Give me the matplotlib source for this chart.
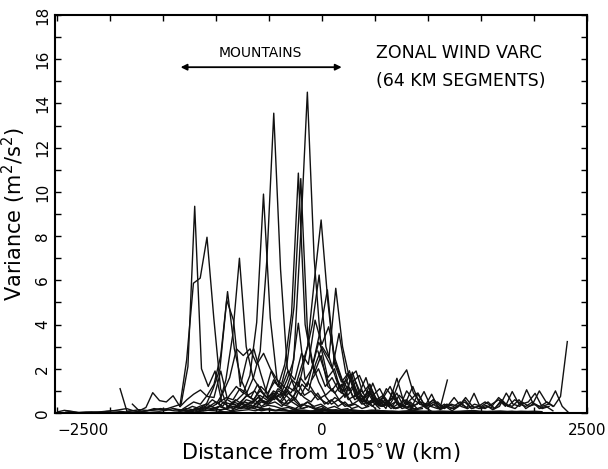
import numpy as np
import matplotlib
matplotlib.use("Agg")
import matplotlib.pyplot as plt
from matplotlib.ticker import MultipleLocator

# 64 km segment spacing along each flight track
SEG_KM = 64

# start position (km from 105W) of each track
starts = [-1906, -1790, -1340, -1404, -1348, -1292, -1193, -1352, -1248, -1033,
          -1163, -969, -924, -846, -767, -736, -898, -1000, -98, 522,
          410, 194, -2496, -2420, -300, -40, 130, 350]

# variance values per track (m^2/s^2)
v01 = [1.1, 0.08, 0.1, 0.05, 0.1, 0.2, 0.15, 0.2, 0.3, 0.4, 2.1, 9.35, 2.0, 1.2, 1.9,
       0.5, 0.3, 0.6, 0.4, 0.2, 0.3, 0.15, 0.2, 0.1, 0.15, 0.1, 0.2]
v02 = [0.4, 0.1, 0.25, 0.92, 0.56, 0.5, 0.78, 0.3, 2.4, 5.87, 6.1, 7.95, 4.3, 1.1, 0.3,
       0.2, 0.5, 0.3, 0.2, 0.1, 0.15, 0.1, 0.2, 0.1]
v03 = [0.29, 0.6, 0.85, 1.04, 0.75, 0.7, 1.9, 0.6, 0.4, 0.2, 0.4, 0.6, 0.3, 0.5, 0.8,
       0.4, 0.3, 0.2, 0.4, 0.3, 0.15, 0.2, 0.1]
v04 = [0.2, 0.1, 0.3, 0.5, 0.4, 0.8, 1.3, 2.6, 5.49, 2.9, 1.5, 0.8, 1.0, 0.6, 0.4, 0.5,
       0.3, 0.6, 0.4, 0.2, 0.3, 0.2, 0.1, 0.15, 0.1]
v05 = [0.1, 0.2, 0.15, 0.3, 0.4, 1.1, 2.0, 5.1, 4.2, 1.2, 2.5, 2.9, 1.8, 0.8, 0.6, 0.9,
       0.4, 0.7, 0.3, 0.5, 0.2, 0.3, 0.1]
v06 = [0.05, 0.1, 0.2, 0.3, 0.6, 0.4, 1.5, 3.5, 7.0, 3.0, 1.6, 1.1, 0.7, 0.9, 0.5, 0.4,
       0.6, 0.3, 0.5, 0.3, 0.4, 0.2, 0.3, 0.15, 0.2]
v07 = [0.1, 0.2, 0.3, 0.5, 0.3, 0.8, 1.2, 0.9, 1.7, 4.1, 9.9, 4.3, 1.5, 0.9, 0.6, 1.0,
       0.7, 0.5, 0.9, 0.4, 0.6, 0.3, 0.5, 0.2, 0.3]
v08 = [0.1, 0.15, 0.3, 0.2, 0.4, 0.3, 0.5, 0.7, 0.6, 1.1, 0.9, 1.6, 2.8, 7.0, 13.56,
       6.5, 2.0, 1.2, 0.8, 1.4, 0.9, 0.6, 0.4, 0.7, 0.5, 0.3, 0.4, 0.2, 0.3]
v09 = [0.1, 0.2, 0.1, 0.3, 0.2, 0.5, 0.4, 0.6, 0.9, 0.7, 1.3, 0.8, 1.9, 1.2, 2.2, 4.5,
       10.85, 4.0, 2.3, 1.4, 0.8, 1.1, 0.6, 0.9, 0.4, 0.6, 0.3, 0.5, 0.2]
v10 = [0.2, 0.3, 0.2, 0.5, 0.4, 0.8, 0.6, 1.0, 0.7, 1.5, 1.1, 2.3, 4.8, 10.6, 3.6, 1.8,
       2.6, 1.2, 0.9, 1.3, 0.6, 0.8, 0.4, 0.5, 0.2]
v11 = [0.1, 0.2, 0.15, 0.3, 0.2, 0.4, 0.3, 0.6, 0.5, 0.8, 0.6, 1.0, 0.8, 1.5, 2.4, 8.0,
       14.51, 7.0, 3.0, 1.6, 2.0, 0.9, 1.2, 0.6, 0.8, 0.4, 0.6, 0.3, 0.5, 0.2, 0.3]
v12 = [0.1, 0.2, 0.3, 0.2, 0.4, 0.3, 0.6, 0.5, 0.9, 0.7, 1.2, 1.0, 2.0, 3.0, 6.0, 8.73,
       5.0, 2.2, 1.4, 1.8, 0.8, 1.0, 0.5, 0.7, 0.3, 0.4, 0.2, 0.3, 0.15, 0.2]
v13 = [0.2, 0.1, 0.3, 0.5, 0.4, 0.7, 0.5, 0.6, 1.0, 0.8, 1.5, 1.2, 2.6, 4.0, 6.24, 3.0,
       2.0, 1.1, 1.5, 0.7, 0.9, 0.4, 0.6, 0.3, 0.5, 0.2, 0.3]
v14 = [0.1, 0.2, 0.4, 0.3, 0.6, 0.4, 0.8, 0.5, 1.0, 0.7, 1.6, 1.2, 2.4, 3.8, 5.57, 2.4,
       1.6, 0.8, 1.2, 0.6, 0.9, 0.4, 0.6, 0.3, 0.5, 0.2, 0.3, 0.15, 0.2]
v15 = [0.2, 0.3, 0.2, 0.5, 0.4, 0.7, 0.5, 0.9, 0.6, 1.3, 1.0, 2.2, 3.0, 2.5, 5.64, 3.0,
       1.6, 1.9, 0.9, 1.3, 0.6, 0.8, 0.4, 0.9, 0.3, 0.5, 0.2, 0.3, 0.1]
v16 = [0.3, 0.5, 0.4, 0.8, 0.6, 1.1, 0.9, 1.8, 4.06, 1.5, 2.0, 3.2, 2.6, 2.0, 3.6, 1.8,
       1.4, 1.7, 1.0, 0.8, 1.1, 0.5, 0.7, 0.3, 0.5, 0.2]
v17 = [0.3, 0.2, 0.5, 0.8, 0.6, 1.2, 0.9, 1.4, 1.1, 1.9, 1.5, 2.7, 2.2, 4.2, 3.1, 3.9,
       2.4, 1.5, 1.0, 1.4, 0.7, 1.0, 0.5, 0.7, 0.3]
v18 = [0.4, 0.9, 1.6, 2.9, 2.6, 2.9, 2.2, 2.7, 2.0, 1.5, 1.2, 0.9, 1.4, 0.8, 1.0, 0.6,
       0.8, 0.4, 0.6, 0.3, 0.4]
v19 = [1.5, 2.0, 1.2, 1.6, 1.0, 0.8, 1.85, 0.9, 0.5, 1.35, 0.6, 0.4, 0.7, 1.5, 1.95,
       0.9, 0.5, 0.4, 0.6, 0.3, 1.49]
v20 = [0.3, 0.5, 0.2, 0.4, 0.3, 0.2, 0.9, 0.3, 0.85, 0.2, 0.3, 0.1, 0.3, 0.7, 0.3, 0.2,
       0.35, 0.15, 0.3, 0.9, 0.4, 0.3, 1.05, 0.4, 0.3, 0.5, 0.3, 0.75, 3.23]
v21 = [0.5, 0.3, 0.6, 0.2, 1.0, 0.4, 0.6, 0.3, 0.5, 0.2, 0.4, 0.15, 0.3, 0.2, 0.4, 0.25,
       0.89, 0.2, 0.3, 0.2, 0.5, 0.3, 0.6, 0.4, 0.5, 0.89, 0.3, 0.4, 1.0, 0.3, 0.0]
v22 = [1.2, 1.91, 0.8, 0.5, 1.3, 0.4, 0.3, 0.6, 1.57, 0.5, 0.3, 0.4, 0.97, 0.3, 0.2, 0.4,
       0.2, 0.3, 0.5, 0.2, 0.3, 0.2, 0.4, 0.6, 0.3, 0.97, 0.4, 0.3, 0.5, 0.2, 0.3, 0.1]
v23 = [0.05, 0.12, 0.08, 0.02, 0.03, 0.05, 0.04, 0.06, 0.1, 0.08, 0.05, 0.1, 0.15, 0.12,
       0.1, 0.08, 0.12, 0.2, 0.15, 0.1, 0.12, 0.2, 0.25, 0.18, 0.15, 0.2, 0.3, 0.25, 0.2,
       0.3, 0.25, 0.35, 0.3, 0.2, 0.25, 0.15, 0.2, 0.3, 0.2, 0.15, 0.1, 0.15, 0.1, 0.12,
       0.08, 0.1, 0.05, 0.08, 0.1, 0.06, 0.05, 0.08, 0.1, 0.05, 0.06, 0.08, 0.05, 0.04,
       0.06, 0.05, 0.08, 0.1, 0.06, 0.05, 0.04, 0.06, 0.05, 0.08, 0.05, 0.04, 0.03, 0.02]
v24 = [0.1, 0.05, 0.02, 0.04, 0.03, 0.05, 0.08, 0.1, 0.15, 0.2, 0.1, 0.05, 0.1, 0.15, 0.2,
       0.15, 0.1, 0.08, 0.1, 0.05, 0.08, 0.12, 0.1, 0.06, 0.05, 0.08, 0.12, 0.15, 0.1, 0.2,
       0.15, 0.12, 0.1, 0.08, 0.1, 0.05, 0.08, 0.1, 0.12, 0.1, 0.08, 0.06, 0.1, 0.08, 0.05,
       0.1, 0.12, 0.08, 0.06, 0.05, 0.04, 0.03]
v25 = [0.05, 0.08, 0.1, 0.06, 0.08, 0.12, 0.1, 0.08, 0.1, 0.12, 0.08, 0.06, 0.1, 0.08,
       0.05, 0.06, 0.04, 0.05, 0.08, 0.06, 0.05, 0.04, 0.06, 0.05, 0.04, 0.05, 0.06, 0.08,
       0.05, 0.04, 0.05, 0.06, 0.04, 0.03, 0.05, 0.04, 0.05, 0.03]
v26 = [2.8, 1.9, 1.0, 1.4, 0.7, 1.72, 0.6, 0.5, 1.0, 0.4, 0.6, 0.3, 0.8, 0.5, 1.2, 0.4,
       0.3, 0.6, 0.2, 0.4, 0.3, 0.5, 0.2]
v27 = [1.6, 1.0, 1.72, 0.8, 0.6, 0.9, 0.4, 0.7, 1.2, 0.5, 0.3, 0.6, 0.9, 0.4, 0.3, 0.5,
       0.2, 0.4, 0.3, 0.6, 0.2, 0.3, 0.5, 0.3, 0.7, 0.4, 0.3, 0.6, 0.2, 0.4, 1.0, 0.5, 0.3]
v28 = [0.9, 1.6, 0.6, 0.4, 1.1, 0.7, 0.3, 1.0, 0.6, 0.4, 0.3, 0.5, 0.2, 0.3, 0.7, 0.3,
       0.2, 0.4, 0.3, 0.5, 0.2, 0.6, 0.3, 0.2, 0.5, 0.3, 0.4, 0.2, 0.3]

tracks = [v01, v02, v03, v04, v05, v06, v07, v08, v09, v10, v11, v12, v13, v14,
          v15, v16, v17, v18, v19, v20, v21, v22, v23, v24, v25, v26, v27, v28]

fig = plt.figure(figsize=(6.08, 4.69), dpi=100)
ax = fig.add_axes([0.0905, 0.1194, 0.875, 0.8486])

for i, (x0, vals) in enumerate(zip(starts, tracks)):
    x = x0 + SEG_KM * np.arange(len(vals))
    # the near-zero track shows as a heavier band along the axis
    lw = 2.0 if i == 24 else 1.0
    ax.plot(x, vals, color="#111111", lw=lw)

ax.set_xlim(-2520, 2500)
ax.set_ylim(0, 18)

ax.set_xticks([-2500, 0, 2500])
ax.set_xticklabels(["\u22122500", "0", "2500"])
ax.xaxis.set_minor_locator(MultipleLocator(500))
ax.set_yticks(np.arange(0, 19, 2))
ax.yaxis.set_minor_locator(MultipleLocator(1))
ax.tick_params(which="both", direction="in", top=True, right=True,
               length=4, width=1, labelsize=11)
ax.tick_params(axis="x", pad=7)
ax.get_xticklabels()[0].set_ha("left")
for lab in ax.get_yticklabels():
    lab.set_rotation(90)
    lab.set_va("center")

for sp in ax.spines.values():
    sp.set_linewidth(1.5)

ax.set_xlabel("Distance from 105$^{\\circ}$W (km)", fontsize=15, labelpad=2)
ax.set_ylabel("Variance (m$^2$/s$^2$)", fontsize=15, labelpad=5)

# annotations
ax.text(-585, 16.3, "MOUNTAINS", ha="center", va="center", fontsize=10)
ax.annotate("", xy=(-1335, 15.64), xytext=(185, 15.64),
            arrowprops=dict(arrowstyle="<|-|>", lw=1.3, color="black",
                            mutation_scale=9, shrinkA=0, shrinkB=0))
ax.text(505, 16.3, "ZONAL WIND VARC", ha="left", va="center", fontsize=12.5)
ax.text(505, 15.0, "(64 KM SEGMENTS)", ha="left", va="center", fontsize=12.5)

fig.savefig("out.png", dpi=100)
